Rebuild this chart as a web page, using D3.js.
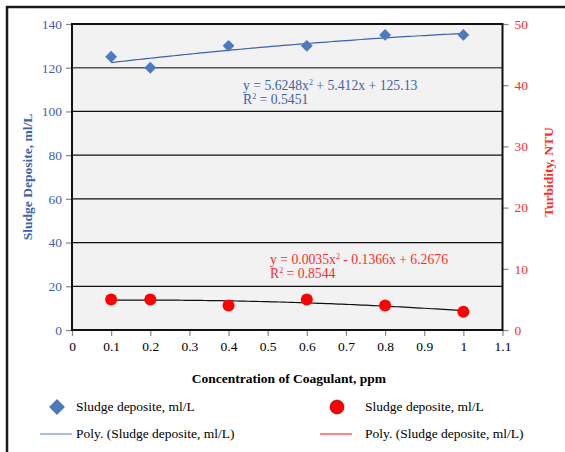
<!DOCTYPE html>
<html><head><meta charset="utf-8">
<script src="https://cdn.jsdelivr.net/npm/d3@7"></script>
<style>body{margin:0;background:#fff}svg{display:block}text{font-family:"Liberation Serif","Times New Roman",serif}</style>
</head><body><svg id="c" width="565" height="452"></svg>
<script>
const concentration = [0.1, 0.2, 0.4, 0.6, 0.8, 1.0];
const sludge = [125, 120, 130, 130, 135, 135];
const turbidity = [5, 5, 4, 5, 4, 3];
const xTicks = [0,0.1,0.2,0.3,0.4,0.5,0.6,0.7,0.8,0.9,1,1.1];
const leftTicks = [0,20,40,60,80,100,120,140];
const rightTicks = [0,10,20,30,40,50];
const eqSludge = ["y = 5.6248x", " + 5.412x + 125.13", "R", " = 0.5451"];
const eqTurb = ["y = 0.0035x", " - 0.1366x + 6.2676", "R", " = 0.8544"];
const BLUE = "#3c62ab", MARK = "#4a7bc0", RED = "#ff2b2b";

function polyfit(xs, ys){ // quadratic least squares
  let S=[0,0,0,0,0], T=[0,0,0];
  xs.forEach((x,i)=>{for(let k=0;k<5;k++)S[k]+=x**k; for(let k=0;k<3;k++)T[k]+=ys[i]*x**k;});
  const A=[[S[0],S[1],S[2],T[0]],[S[1],S[2],S[3],T[1]],[S[2],S[3],S[4],T[2]]];
  for(let i=0;i<3;i++){for(let j=i+1;j<3;j++){const f=A[j][i]/A[i][i];for(let k=i;k<4;k++)A[j][k]-=f*A[i][k];}}
  const c=[0,0,0];
  for(let i=2;i>=0;i--){let s=A[i][3];for(let k=i+1;k<3;k++)s-=A[i][k]*c[k];c[i]=s/A[i][i];}
  return x=>c[0]+c[1]*x+c[2]*x*x;
}

const svg = d3.select("#c");
const L=72, T=24, R=502.5, B=330;
const x = d3.scaleLinear().domain([0,1.1]).range([L,R]);
const yL = d3.scaleLinear().domain([0,140]).range([B,T]);
const yR = d3.scaleLinear().domain([0,50]).range([B,T]);

svg.append("rect").attr("x",7).attr("y",7).attr("width",580).attr("height",470)
  .attr("fill","#fff").attr("stroke","#1a1a1a").attr("stroke-width",2.5);
svg.append("rect").attr("x",L).attr("y",T).attr("width",R-L).attr("height",B-T).attr("fill","#f2f2f2");

// gridlines
svg.append("g").selectAll("line").data(leftTicks.slice(1,-1)).join("line")
  .attr("x1",L).attr("x2",R).attr("y1",d=>yL(d)).attr("y2",d=>yL(d))
  .attr("stroke",d=>d===120?"#555":"#111").attr("stroke-width",d=>d===120?1.6:1.2);

// axes
const gL = svg.append("g").attr("transform",`translate(${L},0)`)
  .call(d3.axisLeft(yL).tickValues(leftTicks).tickSize(6).tickPadding(4).tickFormat(d3.format("d")));
gL.selectAll("text").attr("fill",BLUE).style("font-size","13.5px");
const gR = svg.append("g").attr("transform",`translate(${R},0)`)
  .call(d3.axisRight(yR).tickValues(rightTicks).tickSize(6).tickPadding(6).tickFormat(d3.format("d")));
gR.selectAll("text").attr("fill",RED).style("font-size","13.5px");
const gX = svg.append("g").attr("transform",`translate(0,${B})`)
  .call(d3.axisBottom(x).tickValues(xTicks).tickSize(6).tickPadding(5).tickFormat(d=>d3.format("")(+d.toFixed(1))));
gX.selectAll("text").attr("fill","#000").style("font-size","13.5px");
[gL,gR,gX].forEach(g=>{g.select(".domain").remove();g.selectAll("line").attr("stroke","#888").attr("stroke-width",1.2);});

svg.append("rect").attr("x",L).attr("y",T).attr("width",R-L).attr("height",B-T)
  .attr("fill","none").attr("stroke","#111").attr("stroke-width",2);

// trendlines
const fS = polyfit(concentration, sludge), fT = polyfit(concentration, turbidity);
const xs = d3.range(0.1, 1.0001, 0.01);
svg.append("path").datum(xs).attr("fill","none").attr("stroke",BLUE).attr("stroke-width",1.2)
  .attr("d", d3.line().x(d=>x(d)).y(d=>yL(fS(d))));
svg.append("path").datum(xs).attr("fill","none").attr("stroke","#111").attr("stroke-width",1.2)
  .attr("d", d3.line().x(d=>x(d)).y(d=>yR(fT(d))));

// markers (square rotated 45°)
const sq = d3.symbol().type(d3.symbolSquare).size(70);
svg.append("g").selectAll("path").data(concentration).join("path")
  .attr("transform",(d,i)=>`translate(${x(d)},${yL(sludge[i])}) rotate(45)`).attr("d",sq).attr("fill",MARK);
svg.append("g").selectAll("circle").data(concentration).join("circle")
  .attr("cx",d=>x(d)).attr("cy",(d,i)=>yR(turbidity[i])).attr("r",6).attr("fill","#ff0000");

// equations
function eq(parts, xp, yp, col){
  const t1 = svg.append("text").attr("x",xp).attr("y",yp).attr("fill",col).style("font-size","13.7px");
  t1.append("tspan").text(parts[0]);
  t1.append("tspan").attr("dy",-5).style("font-size","8px").text("2");
  t1.append("tspan").attr("dy",5).text(parts[1]);
  const t2 = svg.append("text").attr("x",xp).attr("y",yp+14).attr("fill",col).style("font-size","13.7px");
  t2.append("tspan").text(parts[2]);
  t2.append("tspan").attr("dy",-5).style("font-size","8px").text("2");
  t2.append("tspan").attr("dy",5).text(parts[3]);
}
eq(eqSludge, 243, 90, BLUE);
eq(eqTurb, 270, 264, RED);

// axis titles
svg.append("text").attr("transform","translate(32,177) rotate(-90)").attr("text-anchor","middle")
  .attr("fill",BLUE).style("font-size","13.5px").style("font-weight","bold").text("Sludge Deposite, ml/L");
svg.append("text").attr("transform","translate(553,172) rotate(-90)").attr("text-anchor","middle")
  .attr("fill",RED).style("font-size","13.5px").style("font-weight","bold").text("Turbidity, NTU");
svg.append("text").attr("x",289).attr("y",383).attr("text-anchor","middle")
  .attr("fill","#000").style("font-size","13.5px").style("font-weight","bold").text("Concentration of Coagulant, ppm");

// legend
svg.append("path").attr("transform","translate(57,407) rotate(45)").attr("d",d3.symbol().type(d3.symbolSquare).size(110)).attr("fill",MARK).attr("stroke","#2b4a80").attr("stroke-width",0.6);
svg.append("text").attr("x",76).attr("y",411).style("font-size","13.5px").text("Sludge deposite, ml/L");
svg.append("circle").attr("cx",337).attr("cy",407).attr("r",7).attr("fill","#ff0000").attr("stroke","#600").attr("stroke-width",0.6);
svg.append("text").attr("x",365).attr("y",411).style("font-size","13.5px").text("Sludge deposite, ml/L");
svg.append("line").attr("x1",40).attr("x2",72).attr("y1",434).attr("y2",434).attr("stroke","#7b9cd0").attr("stroke-width",1.3);
svg.append("text").attr("x",76).attr("y",438).style("font-size","13.5px").text("Poly. (Sludge deposite, ml/L)");
svg.append("line").attr("x1",320).attr("x2",352).attr("y1",434).attr("y2",434).attr("stroke","#ff4040").attr("stroke-width",1.3);
svg.append("text").attr("x",365).attr("y",438).style("font-size","13.5px").text("Poly. (Sludge deposite, ml/L)");
</script></body></html>
